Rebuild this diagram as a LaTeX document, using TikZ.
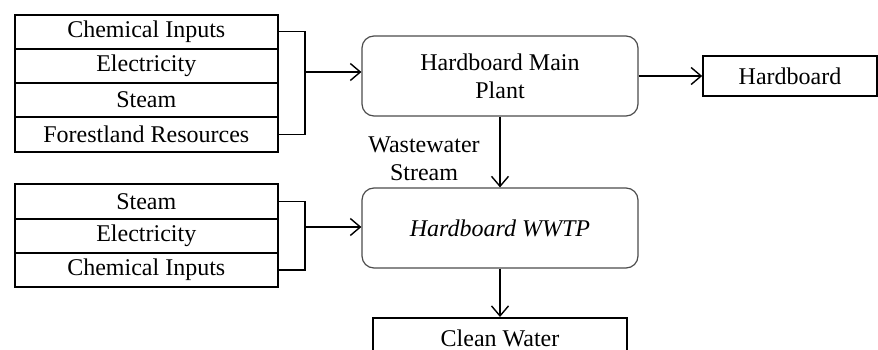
\documentclass[tikz,border=0pt]{standalone}
\usepackage{fontspec}
\setmainfont{Liberation Serif}
\usetikzlibrary{arrows.meta}
\begin{document}
\begin{tikzpicture}[x=1pt,y=-1pt,
  every node/.style={font=\fontsize{24}{28}\selectfont, inner sep=0pt, align=center},
  rowbox/.style={draw=black, line width=1.6pt, minimum width=263pt, minimum height=34pt, anchor=north west},
  procbox/.style={draw=black!70, line width=1.2pt, rounded corners=12pt, minimum width=276pt, minimum height=80pt},
  outbox/.style={draw=black, line width=1.6pt},
  conn/.style={line width=1.4pt, black},
  arr/.style={conn, -{Straight Barb[length=10pt,width=17pt,line width=1.4pt]}}
]
\clip (0,0) rectangle (878,350);
\fill[white] (0,0) rectangle (878,350);
% top inputs
\node[rowbox] (ci1) at (14,14) {Chemical Inputs};
\node[rowbox] (el1) at (14,48) {Electricity};
\node[rowbox] (st1) at (14,82) {Steam};
\node[rowbox, minimum height=35pt] (fr1) at (14,116) {Forestland Resources};
% main plant
\node[procbox] (mp) at (500,76) {Hardboard Main\\Plant};
\node[outbox, minimum width=174pt, minimum height=40pt] (hb) at (790,76) {Hardboard};
% bracket top
\coordinate (b1) at (305,72);
\draw[conn] (ci1.east) -- (ci1.east -| b1) -- (fr1.east -| b1) -- (fr1.east);
\draw[arr] (b1) -- (b1 -| mp.west);
\draw[arr] (mp.east) -- (hb.west);
% wastewater
\node[procbox] (ww) at (500,228) {\itshape Hardboard WWTP};
\draw[arr] (mp.south) -- (ww.north);
\node (wl) at (424,159) {Wastewater\\Stream};
% bottom inputs
\node[rowbox, minimum height=35pt] (st2) at (14,183) {Steam};
\node[rowbox] (el2) at (14,218) {Electricity};
\node[rowbox] (ci2) at (14,252) {Chemical Inputs};
\coordinate (b2) at (305,227);
\draw[conn] (st2.east) -- (st2.east -| b2) -- (ci2.east -| b2) -- (ci2.east);
\draw[arr] (b2) -- (b2 -| ww.west);
% clean water
\node[outbox, minimum width=254pt, minimum height=50pt, anchor=north] (cw) at (500,317) {};
\node[anchor=base, align=none, text depth=0pt] (cwt) at (500,346) {Clean Water};
\draw[arr] (ww.south) -- (cw.north);
\end{tikzpicture}
\end{document}
